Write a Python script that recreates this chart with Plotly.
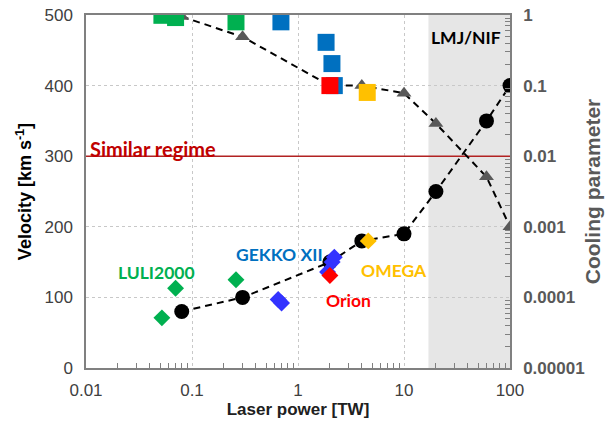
import numpy as np
import plotly.graph_objects as go

# ---- data ----
trend_power = [0.08, 0.3, 2, 4, 10, 20, 60, 100]
trend_velocity = [80, 100, 150, 180, 190, 250, 350, 400]
trend_cooling = [0.95, 0.49, 0.1, 0.1, 0.078, 0.029, 0.0051, 0.001]

luli_power = [0.052, 0.070, 0.26]
luli_velocity = [71, 113, 125]
luli_cooling = [0.99, 0.92, 0.80]

gekko_v_power = [0.65, 0.70, 1.9, 2.1, 2.2]
gekko_velocity = [97, 92, 136, 150, 157]
gekko_c_power = [0.69, 1.84, 2.09, 2.2]
gekko_cooling = [0.80, 0.41, 0.205, 0.1]

orion_power = [2.0]
orion_velocity = [131]
orion_cooling = [0.1]

omega_power = [4.6]
omega_velocity = [180]
omega_c_power = [4.5]
omega_cooling = [0.08]

similar_regime_velocity = 300
lmj_band = [17, 100]

x_ticks = [0.01, 0.1, 1, 10, 100]
x_ticktext = ["0.01", "0.1", "1", "10", "100"]
v_ticks = [0, 100, 200, 300, 400, 500]
c_ticks = [1e-5, 1e-4, 1e-3, 1e-2, 1e-1, 1]
c_ticktext = ["0.00001", "0.0001", "0.001", "0.01", "0.1", "1"]
minor_digits = [2, 3, 4, 5, 6, 7, 8, 9]
x_minor = [d * 10.0 ** e for e in range(-2, 2) for d in minor_digits]
c_minor = [d * 10.0 ** e for e in range(-5, 0) for d in minor_digits]

GREEN = "#00B050"
BLUE_SQ = "#0070C0"
BLUE_DI = "#3333FF"
RED = "#FF0000"
YELLOW = "#FFC000"
GRAY = "#595959"
DARKRED = "#C00000"
LBL = "Lato"

fig = go.Figure()

# similar regime line
fig.add_trace(go.Scatter(x=[0.01, 100], y=[similar_regime_velocity] * 2, mode="lines",
                         line=dict(color="#B22222", width=1.5), yaxis="y", showlegend=False,
                         hoverinfo="skip"))

# trend lines
fig.add_trace(go.Scatter(x=trend_power, y=trend_cooling, mode="lines+markers", yaxis="y2",
                         line=dict(color="black", width=2, dash="7px,5px"),
                         marker=dict(symbol="triangle-up", size=13, color=GRAY),
                         showlegend=False))
fig.add_trace(go.Scatter(x=trend_power, y=trend_velocity, mode="lines+markers", yaxis="y",
                         line=dict(color="black", width=2, dash="7px,5px"),
                         marker=dict(symbol="circle", size=15, color="black"),
                         showlegend=False))

# squares (cooling)
for px, cv, col in [(luli_power, luli_cooling, GREEN), (gekko_c_power, gekko_cooling, BLUE_SQ),
                    (orion_power, orion_cooling, RED), (omega_c_power, omega_cooling, YELLOW)]:
    fig.add_trace(go.Scatter(x=px, y=cv, mode="markers", yaxis="y2",
                             marker=dict(symbol="square", size=17, color=col),
                             showlegend=False))
# diamonds (velocity)
for px, vv, col in [(luli_power, luli_velocity, GREEN), (gekko_v_power, gekko_velocity, BLUE_DI),
                    (orion_power, orion_velocity, RED), (omega_power, omega_velocity, YELLOW)]:
    fig.add_trace(go.Scatter(x=px, y=vv, mode="markers", yaxis="y",
                             marker=dict(symbol="diamond", size=13, color=col),
                             showlegend=False))

# LMJ/NIF band
fig.add_shape(type="rect", xref="x", yref="paper", x0=lmj_band[0], x1=lmj_band[1], y0=0, y1=1,
              fillcolor="#E6E6E6", line=dict(width=0), layer="between")

ann_font = dict(family=LBL, size=17.5)
fig.add_annotation(x=np.log10(0.0105), y=310, xref="x", yref="y", text="<b>Similar regime</b>",
                   showarrow=False, xanchor="left", font=dict(family=LBL, size=20, color=DARKRED))
fig.add_annotation(x=-1.333, y=135, xref="x", yref="y", text="<b>LULI2000</b>",
                   showarrow=False, font=dict(ann_font, color=GREEN))
fig.add_annotation(x=-0.17, y=161, xref="x", yref="y", text="<b>GEKKO XII</b>",
                   showarrow=False, font=dict(ann_font, color=BLUE_SQ))
fig.add_annotation(x=0.91, y=138, xref="x", yref="y", text="<b>OMEGA</b>",
                   showarrow=False, font=dict(ann_font, color=YELLOW))
fig.add_annotation(x=0.479, y=95, xref="x", yref="y", text="<b>Orion</b>",
                   showarrow=False, font=dict(ann_font, color=RED))
fig.add_annotation(x=1.585, y=468, xref="x", yref="y", text="<b>LMJ/NIF</b>",
                   showarrow=False, font=dict(ann_font, color="black"))

grid = dict(gridcolor="#C8C8C8", griddash="3px,3px", gridwidth=1)
fig.update_layout(
    template="none",
    width=611, height=423,
    margin=dict(l=86, r=101, t=15, b=55),
    plot_bgcolor="white", paper_bgcolor="white",
    font=dict(family="Liberation Sans", color="#404040"),
    xaxis=dict(type="log", range=[-2, 2], tickvals=x_ticks, ticktext=x_ticktext,
               tickfont=dict(size=17, color="#404040"), automargin=False,
               ticklabeloverflow="allow", ticklabelstandoff=6,
               showline=True, linecolor="#808080", linewidth=1.5, mirror=True,
               ticks="", showgrid=True, **grid, zeroline=False,
               minor=dict(tickvals=x_minor, ticks="inside", ticklen=5, tickcolor="#808080",
                          showgrid=False),
               title=dict(text="<b>Laser power [TW]</b>", font=dict(size=17, color="#202020"),
                          standoff=4)),
    yaxis=dict(range=[0, 500], tickvals=v_ticks, tickfont=dict(size=17, color="#404040"),
               ticklabeloverflow="allow", ticklabelstandoff=8,
               showline=True, linecolor="#808080", linewidth=1.5, ticks="", automargin=False,
               showgrid=True, **grid, zeroline=False,
               title=dict(text="<b>Velocity [km s<sup>-1</sup>]</b>",
                          font=dict(size=18, color="black"), standoff=8)),
    yaxis2=dict(type="log", range=[-5, 0], overlaying="y", side="right", automargin=False,
                ticklabeloverflow="allow", ticklabelstandoff=8,
                tickvals=c_ticks, ticktext=["<b>%s</b>" % t for t in c_ticktext],
                tickfont=dict(size=17, color=GRAY),
                showline=True, linecolor="#808080", linewidth=1.5, ticks="",
                showgrid=False, zeroline=False,
                minor=dict(tickvals=c_minor, ticks="inside", ticklen=5, tickcolor="#808080",
                           showgrid=False),
                title=dict(text="<b>Cooling parameter</b>", font=dict(size=21, color=GRAY),
                           standoff=2)),
)

fig.write_html("out.html", config={"displayModeBar": False},
               post_script="document.body.style.margin='0';document.body.style.padding='0';")
